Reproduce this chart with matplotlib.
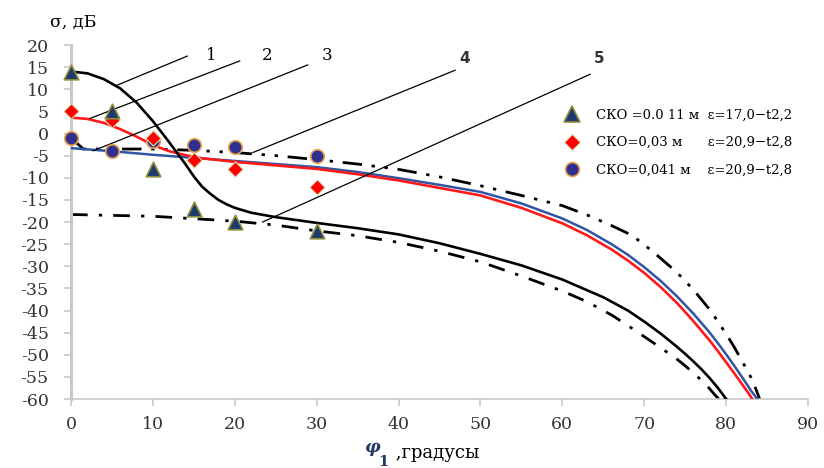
import matplotlib
matplotlib.use("Agg")
import matplotlib.pyplot as plt
from matplotlib.lines import Line2D

plt.rcParams['font.family'] = ['DejaVu Serif']
plt.rcParams['axes.unicode_minus'] = False

# measured points
phi_pts = [0, 5, 10, 15, 20, 30]
tri_vals = [14, 5, -8, -17, -20, -22]
dia_vals = [5, 3, -1, -6, -8, -12]
circ_x = [0, 5, 10, 15, 20, 30]
circ_vals = [-1, -4, -1.8, -2.5, -3, -5]

# curve 1 (black solid)
c1_x = [0, 2, 4, 6, 8, 10, 11, 12, 13, 14, 15, 16, 17, 18, 19, 20, 22, 25, 30, 35, 40,
        45, 50, 55, 60, 65, 68, 70, 72, 74, 75, 76, 77, 78, 79, 80]
c1_y = [14, 13.6, 12.3, 10.2, 7, 2.8, 0.4, -2, -4.5, -7, -9.7, -12, -13.6, -15, -16,
        -16.8, -17.9, -18.9, -20.2, -21.4, -22.8, -24.8, -27.2, -29.8, -33, -37, -40,
        -42.5, -45.2, -48.2, -49.8, -51.5, -53.3, -55.3, -57.5, -60]
# curve 2 (red)
c2_x = [0, 2, 4, 6, 8, 10, 12, 14, 16, 20, 25, 30, 35, 40, 45, 50, 55, 60, 63, 66, 68,
        70, 72, 74, 76, 78, 79, 80, 81, 82, 82.7, 83.2]
c2_y = [3.6, 3.3, 2.4, 1.0, -0.7, -2.6, -4.0, -4.9, -5.6, -6.4, -7.2, -8.0, -9.2, -10.6,
        -12.3, -14.0, -16.8, -20.3, -23.0, -26.2, -28.7, -31.5, -34.7, -38.3, -42.4,
        -46.8, -49.2, -51.7, -54.2, -56.8, -58.6, -60]
# curve 3 (blue)
c3_x = [0, 5, 10, 15, 20, 25, 30, 35, 40, 45, 50, 55, 60, 63, 66, 68, 70, 72, 74, 76,
        78, 79, 80, 81, 82, 83, 83.8]
c3_y = [-3.3, -4.0, -4.8, -5.5, -6.2, -6.9, -7.6, -8.7, -10.1, -11.6, -13.2, -15.8,
        -19.2, -21.8, -25.0, -27.4, -30.2, -33.3, -36.8, -40.7, -45.0, -47.4, -49.9,
        -52.5, -55.2, -58.0, -60]
# curve 4 (upper dash-dot-dot)
c4_x = [0, 1.5, 5, 10, 15, 20, 25, 30, 35, 40, 45, 50, 55, 60, 63, 66, 68.5, 71, 74,
        76, 78, 79, 80, 81, 82, 83, 83.6, 84.1]
c4_y = [-1, -3.5, -3.5, -3.5, -3.8, -4.3, -5.0, -5.9, -6.9, -8.1, -9.8, -11.8, -14.0,
        -16.3, -18.4, -20.8, -23.0, -26.6, -31.4, -35.3, -39.8, -42.5, -45.3, -48.3,
        -51.6, -55.0, -57.6, -60]
# curve 5 (lower dash-dot)
c5_x = [0, 10, 20, 25, 30, 35, 40, 45, 50, 55, 60, 63, 66, 68, 70, 72, 74, 75, 76, 77,
        78, 78.6, 79.1]
c5_y = [-18.3, -18.7, -19.8, -20.7, -22.0, -23.1, -24.6, -26.6, -29.0, -32.2, -35.6,
        -38.0, -41.0, -43.4, -45.9, -48.4, -51.0, -52.5, -54.1, -55.8, -57.7, -59.0, -60]

# curve number labels: (text, line start, line end, label position)
num_labels = ["1", "2", "3", "4", "5"]
lead_start = [(5.6, 10.9), (2.3, 3.4), (2.7, -3.9), (22.2, -4.3), (23.4, -20.0)]
lead_end = [(14.2, 17.5), (20.6, 16.4), (28.9, 15.5), (46.9, 14.3), (63.4, 13.4)]
label_pos = [(17.1, 17.7), (23.9, 17.7), (31.3, 17.7), (48.1, 16.9), (64.5, 16.9)]

legend_labels = ["СКО =0.0 11 м  ε=17,0−t2,2",
                 "СКО=0,03 м      ε=20,9−t2,8",
                 "СКО=0,041 м    ε=20,9−t2,8"]

fig = plt.figure(figsize=(8.24, 4.68), dpi=100)
ax = fig.add_axes([0.0862, 0.1474, 0.8944, 0.7564])

ax.plot(c5_x, c5_y, color='black', lw=2.0, dashes=(6, 4, 1.2, 4), zorder=2)
ax.plot(c4_x, c4_y, color='black', lw=2.0, dashes=(7, 3.5, 1.2, 3.5, 1.2, 3.5), zorder=2)
ax.plot(c3_x, c3_y, color='#2f55a4', lw=1.8, zorder=3)
ax.plot(c2_x, c2_y, color='#ff1a1a', lw=1.9, zorder=3)
ax.plot(c1_x, c1_y, color='black', lw=1.9, zorder=3)

for (x0, y0), (x1, y1) in zip(lead_start, lead_end):
    ax.plot([x0, x1], [y0, y1], color='black', lw=0.9, zorder=4, clip_on=False)
for i, (t, (lx, ly)) in enumerate(zip(num_labels, label_pos)):
    if i < 3:
        ax.text(lx, ly, t, fontsize=12, ha='center', va='center', clip_on=False)
    else:
        ax.text(lx, ly, t, fontsize=11, ha='center', va='center', fontweight='semibold',
                family='DejaVu Sans', color='#333333', clip_on=False)

ax.scatter(circ_x, circ_vals, marker='o', s=95, facecolor='#2e3192',
           edgecolor='#e8a04c', linewidth=1.2, zorder=5, clip_on=False)
ax.scatter(phi_pts, dia_vals, marker='D', s=60, facecolor='#ff0000',
           edgecolor='#d8e0b0', linewidth=0.8, zorder=6, clip_on=False)
ax.scatter(phi_pts, tri_vals, marker='^', s=110, facecolor='#1f3a6e',
           edgecolor='#8c8c3c', linewidth=1.2, zorder=7, clip_on=False)

ax.set_xlim(0, 90)
ax.set_ylim(-60, 20)
ax.set_xticks(range(0, 91, 10))
ax.set_yticks(range(-60, 21, 5))
for s in ['top', 'right']:
    ax.spines[s].set_visible(False)
ax.spines['left'].set_color('#c8c8c8')
ax.spines['left'].set_linewidth(2.2)
ax.spines['bottom'].set_color('#c8c8c8')
ax.spines['bottom'].set_linewidth(1.2)
ax.tick_params(axis='both', colors='#c8c8c8', labelcolor='#333333', labelsize=12.5,
               length=5, width=1.2)
ax.tick_params(axis='x', pad=7)
ax.tick_params(axis='y', pad=11)

handles = [
    Line2D([], [], ls='none', marker='^', ms=11, mfc='#1f3a6e', mec='#8c8c3c', mew=1.2),
    Line2D([], [], ls='none', marker='D', ms=8, mfc='#ff0000', mec='#d8e0b0', mew=0.8),
    Line2D([], [], ls='none', marker='o', ms=10, mfc='#2e3192', mec='#e8a04c', mew=1.2),
]
ax.legend(handles, legend_labels, loc='upper left', bbox_to_anchor=(0.655, 0.835),
          frameon=False, fontsize=9.5, labelspacing=1.1, handletextpad=0.8,
          borderaxespad=0)

fig.text(50 / 824, 1 - 22 / 468, "σ, дБ", fontsize=12.5, ha='left', va='center')
fig.text(364 / 824, 1 - 448 / 468, "φ", fontsize=12.5, fontweight='bold', style='italic',
         color='#1f3864', ha='left', va='center')
fig.text(378 / 824, 1 - 462 / 468, "1", fontsize=10.5, fontweight='bold',
         color='#1f3864', ha='left', va='center')
fig.text(390 / 824, 1 - 453 / 468, " ,градусы", fontsize=13, ha='left', va='center')

fig.savefig("out.png", dpi=100)
